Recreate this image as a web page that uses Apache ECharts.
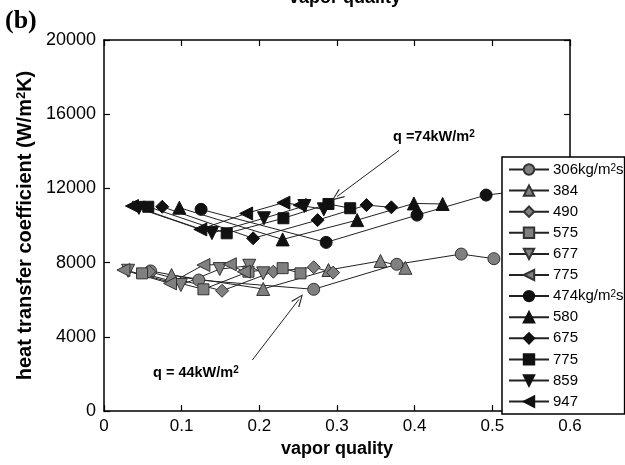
<!DOCTYPE html>
<html>
<head>
<meta charset="utf-8">
<script src="https://cdn.jsdelivr.net/npm/echarts@6/dist/echarts.min.js"></script>
<style>html,body{margin:0;padding:0;background:#fff}#c{width:625px;height:465px}</style>
</head>
<body>
<div id="c"></div>
<script>
// x ticks / y ticks
const xTicks = [0, 0.1, 0.2, 0.3, 0.4, 0.5, 0.6];
const yTicks = [0, 4000, 8000, 12000, 16000, 20000];

// q = 44 kW/m2 (gray markers): [vapor quality, HTC]
const g306 = [[0.060,7550],[0.122,7060],[0.270,6560],[0.377,7910],[0.460,8460],[0.502,8210]];
const g384 = [[0.087,7330],[0.205,6580],[0.289,7600],[0.356,8090],[0.388,7720]];
const g490 = [[0.058,7510],[0.152,6480],[0.218,7510],[0.270,7750],[0.295,7460]];
const g575 = [[0.049,7420],[0.128,6560],[0.186,7510],[0.230,7700],[0.253,7420]];
const g677 = [[0.031,7560],[0.099,6790],[0.149,7650],[0.187,7830],[0.205,7420]];
const g775 = [[0.025,7600],[0.085,6880],[0.128,7870],[0.162,7910],[0.180,7510]];
// q = 74 kW/m2 (black markers)
const b474 = [[0.125,10870],[0.286,9090],[0.403,10560],[0.492,11640],[0.535,11850]];
const b580 = [[0.097,10960],[0.230,9250],[0.326,10290],[0.399,11190],[0.436,11160]];
const b675 = [[0.075,11010],[0.192,9310],[0.275,10290],[0.338,11100],[0.370,10980]];
const b775 = [[0.057,11010],[0.158,9580],[0.231,10390],[0.289,11160],[0.317,10930]];
const b859 = [[0.045,10950],[0.139,9590],[0.206,10390],[0.258,11050],[0.283,10870]];
const b947 = [[0.036,11050],[0.124,9790],[0.183,10650],[0.231,11230],[0.252,11100]];

const seriesNames = ['g306','g384','g490','g575','g677','g775','b474','b580','b675','b775','b859','b947'];
const legendLabels = ['306kg/m{sup|2}s','384','490','575','677','775','474kg/m{sup|2}s','580','675','775','859','947'];
const seriesData = [g306,g384,g490,g575,g677,g775,b474,b580,b675,b775,b859,b947];
const shapes = ['circle','triangle','diamond','rect','triangle','triangle','circle','triangle','diamond','rect','triangle','triangle'];
const rotations = [0,0,0,0,180,90,0,0,0,0,180,90];

// annotation arrows (data coords)
const arrow74 = [[0.380,14050],[0.300,11560]];
const arrow44 = [[0.191,2750],[0.251,6020]];

const chart = echarts.init(document.getElementById('c'), null, {renderer:'canvas'});
const arrowPath = 'path://M0,0 L5,12 L4,12.8 L0,2.6 L-4,12.8 L-5,12 Z';
const labelMap = {};
seriesNames.forEach((n,i)=>labelMap[n]=legendLabels[i]);

const series = seriesNames.map((n,i)=>{
  const gray = n[0]==='g';
  const sz = shapes[i]==='rect' ? 11 : (shapes[i]==='diamond' ? 13 : (shapes[i]==='circle' ? 12 : 13));
  return {
    name: n, type:'line', data: seriesData[i],
    symbol: shapes[i], symbolRotate: rotations[i], symbolSize: sz,
    showAllSymbol: true, animation:false, z: 3,
    lineStyle:{color:'#222', width:1},
    itemStyle:{color: gray ? '#808080' : '#111', borderColor: gray ? '#333' : '#111', borderWidth: 1},
    emphasis:{disabled:true}
  };
});
series.push({
  name:'arrows', type:'line', data:[], animation:false,
  markLine:{
    silent:true, animation:false,
    symbol:['none', arrowPath], symbolSize:[10,13],
    lineStyle:{color:'#222', width:1, type:'solid'},
    label:{show:false},
    data:[
      [{coord:arrow74[0]},{coord:arrow74[1]}],
      [{coord:arrow44[0]},{coord:arrow44[1]}]
    ]
  }
});

function axisCommon(){
  return {
    axisLine:{show:true, onZero:false, lineStyle:{color:'#000', width:1.5}},
    axisTick:{show:true, inside:true, length:6, lineStyle:{color:'#000', width:1.2}},
    splitLine:{show:false}
  };
}

chart.setOption({
  backgroundColor:'#fff',
  animation:false,
  textStyle:{fontFamily:'Liberation Sans, Arial, sans-serif'},
  grid:{left:104, right:55, top:40, bottom:54, containLabel:false, outerBoundsMode:'none'},
  xAxis:[
    Object.assign({type:'value', min:xTicks[0], max:xTicks[xTicks.length-1], interval:0.1, position:'bottom',
      name:'vapor quality', nameLocation:'middle', nameGap:24,
      nameTextStyle:{color:'#000', fontSize:18, fontWeight:'bold', fontFamily:'Liberation Sans'},
      axisLabel:{color:'#000', fontSize:17, margin:7, fontFamily:'Liberation Sans', formatter:v=>String(+v.toFixed(1))}}, axisCommon()),
    Object.assign({type:'value', min:xTicks[0], max:xTicks[xTicks.length-1], interval:0.1, position:'top',
      axisLabel:{show:false}}, axisCommon())
  ],
  yAxis:[
    Object.assign({type:'value', min:yTicks[0], max:yTicks[yTicks.length-1], interval:4000, position:'left',
      name:'heat transfer coefficient (W/m{sup|2}K)', nameLocation:'middle', nameGap:69, nameRotate:90,
      nameTextStyle:{color:'#000', fontSize:20, fontWeight:'bold', fontFamily:'Liberation Sans',
        rich:{sup:{fontSize:13, fontWeight:'bold', verticalAlign:'top', fontFamily:'Liberation Sans', padding:[0,0,7,0]}}},
      axisLabel:{color:'#000', fontSize:18, margin:8, fontFamily:'Liberation Sans', formatter:v=>String(v)}}, axisCommon()),
    Object.assign({type:'value', min:yTicks[0], max:yTicks[yTicks.length-1], interval:4000, position:'right',
      axisLabel:{show:false}}, axisCommon())
  ],
  legend:{
    show:true, orient:'vertical', left:502, top:157,
    data: seriesNames,
    formatter: n=>labelMap[n],
    itemWidth:40, itemHeight:13, itemGap:6.1,
    padding:[5,1,5,6],
    backgroundColor:'#fff', borderColor:'#000', borderWidth:1.5, borderRadius:0,
    selectedMode:false, z:10,
    textStyle:{color:'#000', fontSize:15, lineHeight:13, fontFamily:'Liberation Sans', padding:[0,0,0,-1],
      rich:{sup:{fontSize:10, lineHeight:13, verticalAlign:'top', fontFamily:'Liberation Sans', padding:[0,0,4,0]}}}
  },
  graphic:[
    {type:'text', left:5, top:8, z:20, style:{text:'(b)', font:'bold 26px "Liberation Serif", serif', fill:'#000'}},
    {type:'text', x:345, y:7, z:20, style:{text:'vapor quality', font:'bold 18px "Liberation Sans"', fill:'#000', align:'center', verticalAlign:'bottom'}},
    {type:'text', left:393, top:129, z:20, style:{text:'q =74kW/m{sup|2}', font:'bold 14.5px "Liberation Sans"', fill:'#000',
      rich:{sup:{font:'bold 10px "Liberation Sans"', verticalAlign:'top', padding:[0,0,5,0]}}}},
    {type:'text', left:153, top:365, z:20, style:{text:'q = 44kW/m{sup|2}', font:'bold 14.5px "Liberation Sans"', fill:'#000',
      rich:{sup:{font:'bold 10px "Liberation Sans"', verticalAlign:'top', padding:[0,0,5,0]}}}}
  ],
  series: series
});
</script>
</body>
</html>
